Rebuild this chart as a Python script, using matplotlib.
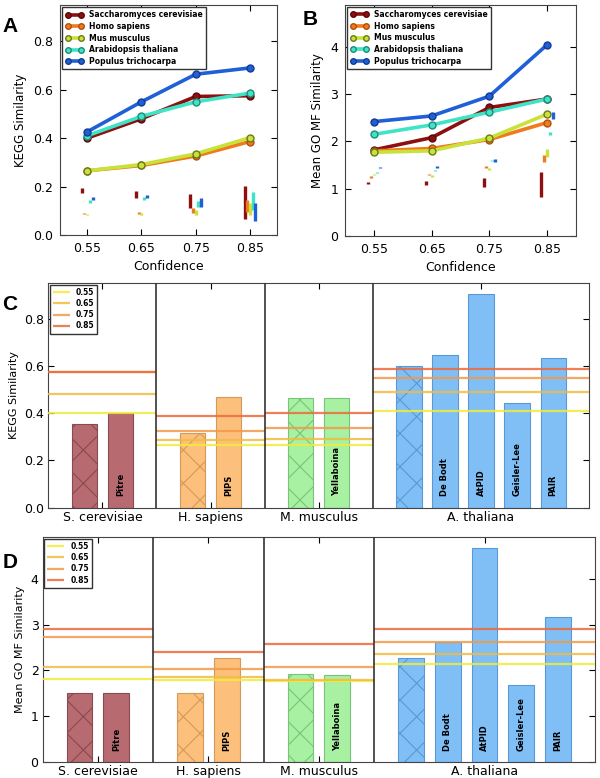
import numpy as np
import matplotlib.pyplot as plt
import matplotlib.transforms as mtransforms

# ---- panels A / B: similarity vs confidence ----
conf = [0.55, 0.65, 0.75, 0.85]
species = ['Saccharomyces cerevisiae', 'Homo sapiens', 'Mus musculus',
           'Arabidopsis thaliana', 'Populus trichocarpa']

kegg_sce = [0.400, 0.480, 0.572, 0.575]
kegg_hsa = [0.265, 0.287, 0.326, 0.386]
kegg_mmu = [0.265, 0.291, 0.335, 0.402]
kegg_ath = [0.410, 0.490, 0.550, 0.586]
kegg_ptr = [0.426, 0.550, 0.664, 0.690]

# spread (low, high) drawn as short vertical bars under the curves
kegg_sce_rng = [(0.175, 0.196), (0.151, 0.182), (0.110, 0.168), (0.064, 0.201)]
kegg_hsa_rng = [(0.085, 0.091), (0.087, 0.095), (0.089, 0.110), (0.096, 0.144)]
kegg_mmu_rng = [(0.081, 0.088), (0.083, 0.091), (0.082, 0.103), (0.082, 0.130)]
kegg_ath_rng = [(0.133, 0.145), (0.144, 0.155), (0.116, 0.141), (0.103, 0.178)]
kegg_ptr_rng = [(0.144, 0.155), (0.153, 0.167), (0.116, 0.151), (0.059, 0.133)]

go_sce = [1.82, 2.08, 2.72, 2.90]
go_hsa = [1.80, 1.85, 2.04, 2.40]
go_mmu = [1.77, 1.80, 2.07, 2.58]
go_ath = [2.15, 2.35, 2.62, 2.90]
go_ptr = [2.42, 2.54, 2.96, 4.05]

go_sce_rng = [(1.09, 1.15), (1.07, 1.16), (1.03, 1.22), (0.83, 1.36)]
go_hsa_rng = [(1.23, 1.26), (1.28, 1.31), (1.43, 1.48), (1.57, 1.71)]
go_mmu_rng = [(1.28, 1.31), (1.25, 1.28), (1.40, 1.44), (1.68, 1.83)]
go_ath_rng = [(1.33, 1.36), (1.37, 1.40), (1.58, 1.61), (2.14, 2.21)]
go_ptr_rng = [(1.43, 1.46), (1.44, 1.47), (1.57, 1.62), (2.47, 2.63)]

# ---- panels C / D: per-method bars ----
groups = ['S. cerevisiae', 'H. sapiens', 'M. musculus', 'A. thaliana']
methods_sce = ['', 'Pitre']
methods_hsa = ['', 'PIPS']
methods_mmu = ['', 'Yellaboina']
methods_ath = ['', 'De Bodt', 'AtPID', 'Geisler-Lee', 'PAIR']

kegg_bar_sce = [0.352, 0.399]
kegg_bar_hsa = [0.317, 0.470]
kegg_bar_mmu = [0.462, 0.466]
kegg_bar_ath = [0.601, 0.647, 0.905, 0.444, 0.632]

go_bar_sce = [1.50, 1.50]
go_bar_hsa = [1.50, 2.28]
go_bar_mmu = [1.93, 1.91]
go_bar_ath = [2.28, 2.62, 4.67, 1.68, 3.17]

thresholds = ['0.55', '0.65', '0.75', '0.85']

line_colors = ['#8c1010', '#f07a1e', '#c9e23a', '#3fe3c6', '#1f5fd8']
marker_edges = ['#5a0a0a', '#b0500e', '#6a7a18', '#1f8c78', '#123c90']
offsets = [-0.010, -0.005, 0.0, 0.005, 0.010]
bar_face = ['#b76b70', '#fcc07c', '#a8f0a2', '#80bff6']
bar_edge = ['#8a4a50', '#d49a5a', '#78c478', '#5a98d6']
thr_colors = ['#f2ec3a', '#f2bb40', '#f29a48', '#ec6a3c']

plt.rcParams['font.family'] = 'DejaVu Sans'
plt.rcParams['hatch.linewidth'] = 0.8

fig = plt.figure(figsize=(6, 7.78), dpi=100)
axA = fig.add_axes([0.100, 0.698, 0.362, 0.2956])
axB = fig.add_axes([0.575, 0.697, 0.385, 0.2970])
axC = fig.add_axes([0.0805, 0.3474, 0.9015, 0.2888])
axD = fig.add_axes([0.0712, 0.0202, 0.9205, 0.2892])


def line_panel(ax, series, ranges, ylim, yticks, ylabel):
    for name, vals, rng, c, ec, off in zip(species, series, ranges,
                                           line_colors, marker_edges, offsets):
        ax.plot(conf, vals, '-o', color=c, lw=2.6, ms=5, mfc=c, mec=ec,
                mew=1.0, label=name)
        for x, (lo, hi) in zip(conf, rng):
            ax.vlines(x + off, lo, hi, color=c, lw=2.4)
    ax.set_xlim(0.5, 0.9)
    ax.set_ylim(*ylim)
    ax.set_xticks(conf)
    ax.set_yticks(yticks)
    ax.tick_params(direction='in', top=True, right=True, length=4,
                   labelsize=9, pad=5)
    ax.set_xlabel('Confidence', fontsize=9)
    ax.set_ylabel(ylabel, fontsize=8.5)
    leg = ax.legend(loc='upper left', numpoints=2, handlelength=2.3,
                    markerscale=0.8,
                    prop={'size': 5.5, 'weight': 'bold'}, fancybox=False,
                    borderaxespad=0.3, labelspacing=0.35, framealpha=1)
    leg.get_frame().set_edgecolor('#333333')
    for s in ax.spines.values():
        s.set_color('#444444')


line_panel(axA, [kegg_sce, kegg_hsa, kegg_mmu, kegg_ath, kegg_ptr],
           [kegg_sce_rng, kegg_hsa_rng, kegg_mmu_rng, kegg_ath_rng, kegg_ptr_rng],
           (0, 0.95), [0.0, 0.2, 0.4, 0.6, 0.8], 'KEGG Similarity')
axA.set_yticklabels(['0.0', '0.2', '0.4', '0.6', '0.8'])
line_panel(axB, [go_sce, go_hsa, go_mmu, go_ath, go_ptr],
           [go_sce_rng, go_hsa_rng, go_mmu_rng, go_ath_rng, go_ptr_rng],
           (0, 4.9), [0, 1, 2, 3, 4], 'Mean GO MF Similarity')


def bar_panel(ax, bars, curves, ylim, yticks, ylabel):
    methods = [methods_sce, methods_hsa, methods_mmu, methods_ath]
    trans = mtransforms.blended_transform_factory(ax.transData, ax.transAxes)
    start = 0
    centers = []
    for gi, (vals, names, curve) in enumerate(zip(bars, methods, curves)):
        width = len(vals) + 1
        xs = np.arange(len(vals)) + start + 1
        for j, (x, v, nm) in enumerate(zip(xs, vals, names)):
            ax.bar(x, v, width=0.7, color=bar_face[gi], edgecolor=bar_edge[gi],
                   linewidth=0.8, hatch='x' if j == 0 else None, zorder=2)
            if nm:
                ax.text(x, 0.05, nm, transform=trans, rotation=90, ha='center',
                        va='bottom', fontsize=6, weight='bold', zorder=4)
        for t, (val, tc) in enumerate(zip(curve, thr_colors)):
            ax.hlines(val, start, start + width, color=tc, lw=1.6, alpha=0.85,
                      zorder=3, label=thresholds[t] if gi == 0 else None)
        centers.append(start + width / 2)
        start += width
        if gi < len(bars) - 1:
            ax.axvline(start, color='#333333', lw=1.2, zorder=4)
    ax.set_xlim(0, start)
    ax.set_ylim(*ylim)
    ax.set_xticks(centers)
    ax.set_xticklabels(groups, fontsize=8.5)
    ax.set_yticks(yticks)
    ax.tick_params(direction='in', top=True, right=True, length=4,
                   labelsize=9, pad=3)
    ax.tick_params(axis='x', pad=2)
    ax.set_ylabel(ylabel, fontsize=8)
    leg = ax.legend(loc='upper left', handlelength=2.2, fancybox=False,
                    prop={'size': 5.5, 'weight': 'bold'}, borderaxespad=0.2,
                    labelspacing=0.3, framealpha=1)
    leg.get_frame().set_edgecolor('#333333')
    for s in ax.spines.values():
        s.set_color('#444444')


bar_panel(axC, [kegg_bar_sce, kegg_bar_hsa, kegg_bar_mmu, kegg_bar_ath],
          [kegg_sce, kegg_hsa, kegg_mmu, kegg_ath],
          (0, 0.95), [0.0, 0.2, 0.4, 0.6, 0.8], 'KEGG Similarity')
axC.set_yticklabels(['0.0', '0.2', '0.4', '0.6', '0.8'])
bar_panel(axD, [go_bar_sce, go_bar_hsa, go_bar_mmu, go_bar_ath],
          [go_sce, go_hsa, go_mmu, go_ath],
          (0, 4.9), [0, 1, 2, 3, 4], 'Mean GO MF Similarity')

for lab, x, y in [('A', 0.004, 0.959), ('B', 0.504, 0.968),
                  ('C', 0.004, 0.6015), ('D', 0.004, 0.270)]:
    fig.text(x, y, lab, fontsize=15, weight='bold', family='Liberation Sans')

fig.savefig('out.png', dpi=100)
